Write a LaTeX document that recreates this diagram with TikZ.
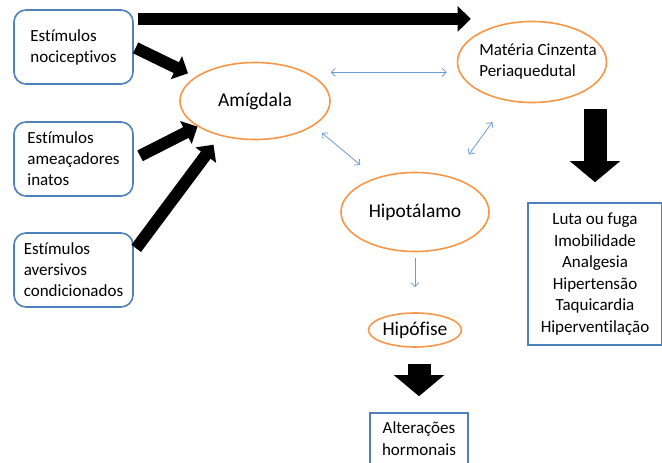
\documentclass[tikz,border=0pt]{standalone}
\usepackage{fontspec}
\setmainfont{Carlito}[Ligatures=NoCommon]
\usetikzlibrary{shapes.geometric,arrows.meta}
\definecolor{boxblue}{HTML}{4F81BD}
\definecolor{ovalorange}{HTML}{F79646}
\definecolor{linkblue}{HTML}{6B9BD6}

\begin{document}
\begin{tikzpicture}[x=1pt,y=-1pt]
\tikzstyle{every node}+=[inner sep=0pt]
\tikzstyle{stimbox}=[draw=boxblue,line width=1.6pt,rounded corners=12pt,minimum width=119pt,minimum height=74pt,align=left,font=\fontsize{17}{21}\selectfont]
\tikzstyle{oval}=[draw=ovalorange,line width=1.6pt,ellipse,font=\fontsize{19.5}{23}\selectfont]
\tikzstyle{effbox}=[draw=boxblue,line width=1.6pt,align=center,font=\fontsize{17}{21.5}\selectfont]
\tikzstyle{bigarrow}=[line width=12pt,-{Triangle[length=13pt,width=25pt]}]
\tikzstyle{blockarrow}=[line width=23pt,-{Triangle[length=21pt,width=49pt]}]
\tikzstyle{link}=[draw=linkblue,line width=0.8pt,>={Straight Barb[length=4pt,width=8pt]}]
\useasboundingbox (0,0) rectangle (662,463);
\node[stimbox] (noci) at (73.5,47) {Estímulos\\nociceptivos};
\node[stimbox] (inat) at (73.5,159) {Estímulos\\ameaçadores\\inatos};
\node[stimbox] (cond) at (73.5,270) {Estímulos\\aversivos\\condicionados};
\node[oval,minimum width=150pt,minimum height=77pt] (amig) at (255,101) {Amígdala};
\node[oval,minimum width=149pt,minimum height=81pt,label={[align=left,font=\fontsize{17}{21}\selectfont,xshift=6pt]center:Matéria Cinzenta\\Periaquedutal}] (mcp) at (532,62) {};
\node[oval,minimum width=148pt,minimum height=79pt] (hipot) at (415,212) {Hipotálamo};
\node[oval,minimum width=93pt,minimum height=34pt] (hipof) at (415,330) {Hipófise};
\node[effbox,minimum width=134pt,minimum height=142pt] (fx) at (595,274) {Luta ou fuga\\Imobilidade\\Analgesia\\Hipertensão\\Taquicardia\\Hiperventilação};
\node[effbox,minimum width=98pt,minimum height=51pt] (alt) at (419,438.5) {Alterações\\hormonais};
\draw[bigarrow,shorten <=4pt,shorten >=-14pt] (noci.25) -- (noci.25 -| mcp.west);
\draw[bigarrow,shorten <=2pt,shorten >=8pt] (noci.east) -- (amig.158);
\draw[bigarrow,shorten <=7pt] (inat.east) -- (amig.204);
\draw[bigarrow,shorten <=4pt,shorten >=11pt] (cond.17) -- (amig.225);
\draw[blockarrow,shorten <=6pt,shorten >=20pt] (mcp.south -| fx.north) -- (fx.north);
\draw[blockarrow,shorten <=16pt,shorten >=16pt] (hipof.south -| alt.north) -- (alt.north);
\draw[link,<->,shorten <=24pt,shorten >=10pt] (amig.29) -- (amig.29 -| mcp.west);
\draw[link,<->,shorten <=11pt,shorten >=20pt] (amig.337) -- (hipot.139);
\draw[link,<->,shorten <=26pt,shorten >=28pt] (mcp.238) -- (hipot.43);
\draw[link,->,shorten <=6pt,shorten >=25pt] (hipot.south) -- (hipof.north);
\end{tikzpicture}
\end{document}
